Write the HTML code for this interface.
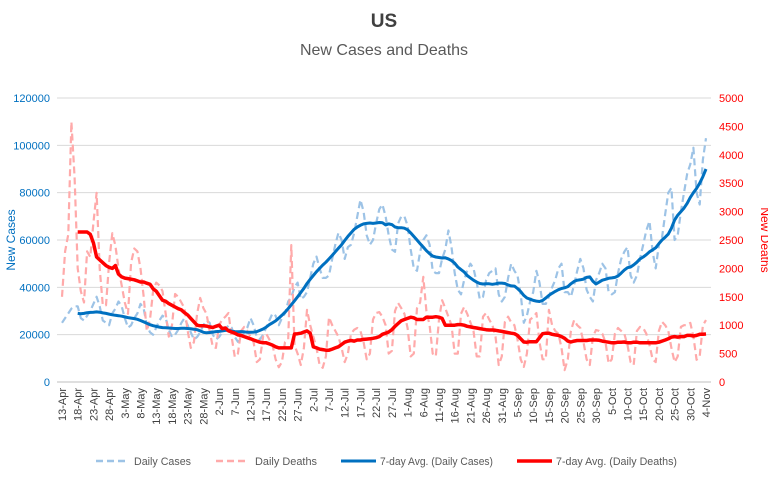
<!DOCTYPE html>
<html><head><meta charset="utf-8"><style>
body{margin:0;background:#fff;}
svg{display:block;font-family:"Liberation Sans",sans-serif;}
</style></head><body>
<svg id="chart" width="768" height="480">
<text x="384" y="27" text-anchor="middle" font-size="19" font-weight="bold" fill="#404040">US</text>
<text x="384" y="55" text-anchor="middle" font-size="16" fill="#595959">New Cases and Deaths</text>
<text transform="translate(15,240) rotate(-90)" text-anchor="middle" font-size="12" fill="#0070C0">New Cases</text>
<text transform="translate(761,240) rotate(90)" text-anchor="middle" font-size="12" fill="#FF0000">New Deaths</text>
<g id="grid"></g>
<g id="axes"></g>
<g id="series"></g>
<g font-size="11" fill="#595959">
<g><line x1="96" y1="461" x2="128" y2="461" stroke="#9DC3E6" stroke-width="2.5" stroke-dasharray="7,4"/><text x="134" y="465" textLength="57" lengthAdjust="spacingAndGlyphs">Daily Cases</text></g>
<g><line x1="216" y1="461" x2="249" y2="461" stroke="#FFAAAA" stroke-width="2.5" stroke-dasharray="7,4"/><text x="255" y="465" textLength="62" lengthAdjust="spacingAndGlyphs">Daily Deaths</text></g>
<g><line x1="341" y1="461" x2="376" y2="461" stroke="#0070C0" stroke-width="3"/><text x="380" y="465" textLength="113" lengthAdjust="spacingAndGlyphs">7-day Avg. (Daily Cases)</text></g>
<g><line x1="517" y1="461" x2="552" y2="461" stroke="#FF0000" stroke-width="3.5"/><text x="556" y="465" textLength="121" lengthAdjust="spacingAndGlyphs">7-day Avg. (Daily Deaths)</text></g>
</g>
</svg>
<script>
const xTickLabels=["13-Apr","18-Apr","23-Apr","28-Apr","3-May","8-May","13-May","18-May","23-May","28-May","2-Jun","7-Jun","12-Jun","17-Jun","22-Jun","27-Jun","2-Jul","7-Jul","12-Jul","17-Jul","22-Jul","27-Jul","1-Aug","6-Aug","11-Aug","16-Aug","21-Aug","26-Aug","31-Aug","5-Sep","10-Sep","15-Sep","20-Sep","25-Sep","30-Sep","5-Oct","10-Oct","15-Oct","20-Oct","25-Oct","30-Oct","4-Nov"];
const leftTicks=[0,20000,40000,60000,80000,100000,120000];
const rightTicks=[0,500,1000,1500,2000,2500,3000,3500,4000,4500,5000];
const dailyCasesK=[
25,27,29,31,32,32,27, 26,28,30,33,36,32,26, 25,24,29,31,34,32,27, 23,24,27,29,33,31,24,
21,20,23,26,28,27,22, 19,20,22,25,27,24,21, 18,19,21,24,26,25,20, 18,19,21,22,24,23,19,
17,18,21,23,27,24,19, 18,20,23,26,29,28,24, 27,29,34,36,40,42,35, 36,38,44,50,53,48,44,
44,45,52,58,63,60,52, 57,58,63,70,77,72,62, 58,60,67,73,75,70,62, 56,55,67,70,70,66,56,
48,47,55,60,62,58,47, 46,46,52,56,64,57,46, 39,37,43,47,50,48,42, 35,36,43,46,47,48,37,
34,36,44,50,47,45,37, 25,28,34,38,47,42,33, 33,36,40,43,48,50,38, 38,36,41,47,52,48,39,
36,34,43,46,50,48,38, 37,38,46,52,55,57,45, 42,45,52,58,64,68,55, 48,58,61,71,80,82,60,
62,72,80,88,92,99,80, 75,94,103];
const dailyDeaths=[
1500,2300,2600,4580,3600,2000,1600, 1400,2300,2200,2800,3330,2000,1350, 1350,2100,2620,2400,2000,1700,1400,
1200,2100,2350,2300,2000,1500,900, 1100,1600,1750,1700,1600,1200,800, 1000,1550,1500,1400,1300,900,600,
700,1200,1480,1300,1200,900,620, 600,1000,1100,1150,1215,800,440, 500,900,970,900,800,700,350,
400,800,850,750,650,400,260, 350,700,750,2410,650,500,300, 600,1270,1000,800,600,300,250,
450,1140,1000,900,800,600,350, 500,850,920,950,900,700,400, 500,1100,1215,1230,1150,1000,500,
550,1250,1390,1300,1200,950,450, 500,1300,1400,1850,1250,1000,500, 450,1100,1440,1300,1150,1000,500,
500,1200,1320,1200,1050,900,450, 450,1150,1215,1100,1000,800,300, 450,1060,1150,1050,1000,750,400,
265,500,1100,1140,1215,700,400, 400,1270,1000,900,850,600,210, 400,900,1090,1000,950,700,400,
300,800,915,900,850,700,330, 400,850,950,900,850,650,350, 300,900,970,950,850,650,400,
350,900,1060,1000,900,600,350, 450,970,1000,1000,1040,800,390, 450,1000,1090];
const avgStart=5;
const avgCasesK=[
29.0,28.8,29.0,29.3,29.4,29.5,29.6,29.5,29.2,29.0,
28.7,28.4,28.2,28.0,27.8,27.5,27.2,27.0,26.8,26.5,
26.0,25.4,24.8,24.2,23.8,23.5,23.2,23.0,22.9,22.8,
22.7,22.6,22.6,22.7,22.7,22.6,22.5,22.3,22.1,21.6,
21.0,20.8,20.9,21.1,21.3,21.4,21.6,21.8,21.9,21.5,
21.3,21.2,21.3,21.2,21.0,21.0,21.1,21.3,21.8,22.4,
23.2,24.2,25.0,25.8,27.0,28.2,29.5,31.0,32.6,34.3,
36.0,37.8,39.6,41.6,43.4,45.0,46.6,48.0,49.4,50.6,
52.0,53.5,55.0,56.5,58.0,59.8,61.5,63.0,64.5,65.5,
66.2,66.8,67.0,67.2,67.0,67.2,67.4,67.3,66.4,66.8,
66.5,65.5,65.2,65.2,65.0,64.3,63.0,61.5,60.0,58.5,
57.0,55.5,54.2,53.2,52.8,52.6,52.4,52.5,52.0,51.3,
50.2,48.6,47.5,46.5,45.0,44.0,43.0,42.2,41.6,41.4,
41.5,41.5,41.3,41.5,41.8,41.8,41.6,41.0,40.6,40.5,
39.5,38.2,36.6,35.5,35.0,34.5,34.2,34.0,34.5,35.5,
36.6,37.5,38.3,39.0,39.5,39.8,40.3,41.5,42.5,43.0,
43.2,43.5,44.2,44.4,42.6,41.4,42.2,43.0,43.4,43.8,
44.0,44.2,44.8,46.0,47.3,48.3,48.6,49.5,50.6,52.0,
52.8,53.8,55.0,55.8,56.7,58.5,60.0,61.2,62.5,65.0,
68.4,70.5,72.0,73.5,75.5,78.0,80.0,81.8,84.0,86.8,90.0];
const avgDeaths=[
2640,2640,2640,2640,2600,2450,2200,2150,2100,2050,
2020,2000,2050,1900,1850,1830,1820,1810,1800,1780,
1760,1760,1740,1720,1640,1600,1520,1440,1420,1380,
1350,1320,1290,1270,1220,1180,1120,1060,1000,990,
990,985,970,960,980,1000,940,950,900,880,
860,830,820,800,780,760,740,720,700,690,
690,670,650,620,600,600,600,600,600,845,
850,860,880,900,860,620,600,580,570,560,
560,580,600,620,660,700,720,730,720,740,
740,750,755,760,770,780,800,840,860,880,
920,980,1030,1080,1100,1120,1140,1130,1100,1100,
1100,1140,1140,1140,1150,1140,1120,1000,1000,1000,
1000,1010,1010,1000,980,970,960,950,940,930,
920,915,915,910,900,890,880,870,860,850,
820,760,705,700,710,710,710,780,850,860,
860,840,830,820,800,770,720,705,720,730,
730,730,730,740,740,740,735,720,710,700,
690,690,700,700,705,690,690,700,700,690,
690,690,690,690,690,700,720,740,760,790,
800,790,800,800,820,820,810,820,840,840,845];

const NS="http://www.w3.org/2000/svg";
const X0=62,X1=706,Y0=382,Y1=98,nDays=dailyCasesK.length;
const xs=i=>X0+(X1-X0)*i/(nDays-1);
const yL=v=>Y0-(Y0-Y1)*v/120000;
const yR=v=>Y0-(Y0-Y1)*v/5000;
function mk(tag,attrs,parent){const e=document.createElementNS(NS,tag);for(const k in attrs)e.setAttribute(k,attrs[k]);parent.appendChild(e);return e;}
const grid=document.getElementById('grid'),axes=document.getElementById('axes'),ser=document.getElementById('series');
leftTicks.forEach(v=>{
  const l=mk('line',{x1:57,x2:711,y1:yL(v),y2:yL(v),stroke:v===0?'#bfbfbf':'#d9d9d9','stroke-width':1},grid);
  
  
  const t=mk('text',{x:50,y:yL(v)+4,'text-anchor':'end','font-size':11,fill:'#0070C0'},axes);
  t.textContent=v;
  
  
});
rightTicks.forEach(v=>{
  const t=mk('text',{x:719,y:yR(v)+4,'text-anchor':'start','font-size':11,fill:'#FF0000'},axes);
  t.textContent=v;
  
  
});
xTickLabels.forEach((s,k)=>{
  const x=xs(k*5);
  const t=mk('text',{transform:`translate(${x+4},388) rotate(-90)`,'text-anchor':'end','font-size':11,fill:'#404040'},axes);
  t.textContent=s;
  
  
});
function path(vals,start,yf,scale,stroke,w,dash,name){
  let d='';vals.forEach((v,j)=>{d+=(j?'L':'M')+xs(start+j).toFixed(1)+','+yf(v*scale).toFixed(1);});
  const p=mk('path',{d:d,fill:'none',stroke:stroke,'stroke-width':w,'stroke-linejoin':'round'},ser);
  if(dash)p.setAttribute('stroke-dasharray',dash);
  
  
}
path(dailyCasesK,0,yL,1000,'#9DC3E6',2.2,'7,4','daily-cases-line');
path(dailyDeaths,0,yR,1,'#FFAAAA',2.2,'7,4','daily-deaths-line');
path(avgCasesK,avgStart,yL,1000,'#0070C0',3,null,'avg-cases-line');
path(avgDeaths,avgStart,yR,1,'#FF0000',3.5,null,'avg-deaths-line');
</script>
</body></html>
